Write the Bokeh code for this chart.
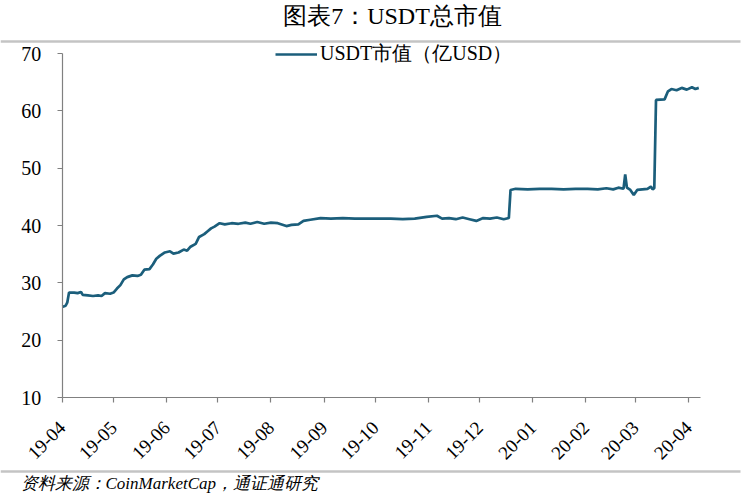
import pandas as pd
from bokeh.plotting import figure
from bokeh.models import (ColumnDataSource, Range1d, DatetimeTickFormatter, MonthsTicker,
                          FixedTicker, Legend, LegendItem, Label, BoxAnnotation)
from bokeh.embed import file_html
from bokeh.resources import INLINE
import math

# ---------------- data ----------------
dates = [
    "2019-04-01", "2019-04-03", "2019-04-04", "2019-04-05", "2019-04-08", "2019-04-10",
    "2019-04-12", "2019-04-13", "2019-04-16", "2019-04-19", "2019-04-22", "2019-04-24",
    "2019-04-26", "2019-04-29", "2019-05-01", "2019-05-03", "2019-05-05", "2019-05-07",
    "2019-05-09", "2019-05-12", "2019-05-15", "2019-05-17", "2019-05-19", "2019-05-22",
    "2019-05-24", "2019-05-26", "2019-05-28", "2019-05-31", "2019-06-03", "2019-06-05",
    "2019-06-08", "2019-06-11", "2019-06-13", "2019-06-15", "2019-06-18", "2019-06-20",
    "2019-06-23", "2019-06-25", "2019-06-27", "2019-06-29", "2019-07-02", "2019-07-05",
    "2019-07-09", "2019-07-13", "2019-07-17", "2019-07-20", "2019-07-24", "2019-07-28",
    "2019-08-01", "2019-08-05", "2019-08-10", "2019-08-13", "2019-08-17", "2019-08-20",
    "2019-08-24", "2019-08-30", "2019-09-05", "2019-09-12", "2019-09-19", "2019-09-26",
    "2019-10-03", "2019-10-10", "2019-10-17", "2019-10-24", "2019-10-31", "2019-11-06",
    "2019-11-09", "2019-11-13", "2019-11-17", "2019-11-21", "2019-11-25", "2019-11-29",
    "2019-12-03", "2019-12-07", "2019-12-11", "2019-12-15", "2019-12-18", "2019-12-19",
    "2019-12-22", "2019-12-29", "2020-01-05", "2020-01-12", "2020-01-19", "2020-01-26",
    "2020-02-02", "2020-02-08", "2020-02-13", "2020-02-17", "2020-02-20", "2020-02-23",
    "2020-02-24", "2020-02-25", "2020-02-27", "2020-02-29", "2020-03-02", "2020-03-05",
    "2020-03-08", "2020-03-10", "2020-03-11", "2020-03-12", "2020-03-13", "2020-03-18",
    "2020-03-20", "2020-03-22", "2020-03-25", "2020-03-28", "2020-03-31", "2020-04-03",
    "2020-04-05", "2020-04-07",
]
usdt_cap = [
    25.8, 26.0, 26.6, 28.3, 28.3, 28.2,
    28.4, 27.9, 27.8, 27.7, 27.8, 27.7,
    28.2, 28.1, 28.3, 29.0, 29.6, 30.6,
    31.0, 31.3, 31.2, 31.4, 32.3, 32.4,
    33.2, 34.2, 34.7, 35.3, 35.5, 35.1,
    35.3, 35.8, 35.6, 36.3, 36.8, 38.0,
    38.5, 39.0, 39.5, 39.8, 40.4, 40.2,
    40.4, 40.3, 40.5, 40.3, 40.6, 40.3,
    40.5, 40.4, 39.9, 40.1, 40.2, 40.8,
    41.0, 41.3, 41.2, 41.3, 41.2, 41.2,
    41.2, 41.2, 41.1, 41.2, 41.5, 41.7,
    41.2, 41.3, 41.1, 41.4, 41.1, 40.8,
    41.3, 41.2, 41.4, 41.1, 41.3, 46.2,
    46.4, 46.3, 46.4, 46.4, 46.3, 46.4,
    46.4, 46.3, 46.5, 46.3, 46.6, 46.4,
    48.9, 46.6, 46.2, 45.3, 46.2, 46.3,
    46.4, 46.8, 46.3, 46.5, 61.9, 62.0,
    63.4, 63.8, 63.6, 64.0, 63.7, 64.1,
    63.8, 64.0,
]

x_start = "2019-04-01"
x_end = "2020-04-08"
y_ticks = [10, 20, 30, 40, 50, 60, 70]

series_label = "USDT市值（亿USD）"
title_text = "图表7：USDT总市值"
source_text = "资料来源：CoinMarketCap，通证通研究"

# ---------------- geometry (page pixels) ----------------
W, H = 749, 493
AX_LEFT, AX_RIGHT = 61.7, 700.0        # x pixels of x_start / x_end
AX_TOP, AX_BOTTOM = 53.0, 397.0        # y pixels of 70 / 10
TOP_RULE_Y, BOT_RULE_Y = 41.0, 471.0
RULE_END_X = 740.0

t0 = pd.Timestamp(x_start)
t1 = pd.Timestamp(x_end)
ms_per_px = (t1 - t0) / (AX_RIGHT - AX_LEFT)
x_lo = t0 - ms_per_px * AX_LEFT
x_hi = t1 + ms_per_px * (W - AX_RIGHT)
u_per_px = (y_ticks[-1] - y_ticks[0]) / (AX_BOTTOM - AX_TOP)
y_hi = y_ticks[-1] + u_per_px * AX_TOP
y_lo = y_ticks[0] - u_per_px * (H - AX_BOTTOM)

def py(pix):        # page y pixel -> data value
    return y_hi - pix * u_per_px

def px(pix):        # page x pixel -> timestamp
    return x_lo + ms_per_px * pix

def ms(ts):
    return ts.value / 1e6

src = ColumnDataSource(dict(date=pd.to_datetime(dates), cap=usdt_cap))

p = figure(width=W, height=H, x_axis_type="datetime", output_backend="svg",
           toolbar_location=None, title=None,
           x_range=Range1d(x_lo, x_hi), y_range=Range1d(y_lo, y_hi), min_border=0)
p.outline_line_color = None
p.xgrid.visible = False
p.ygrid.visible = False

serif = "Liberation Serif"
axis_col = "#808080"
for ax in (p.xaxis[0], p.yaxis[0]):
    ax.axis_line_color = axis_col
    ax.axis_line_width = 1.2
    ax.major_tick_line_color = axis_col
    ax.major_tick_line_width = 1.2
    ax.major_tick_in = 0
    ax.major_tick_out = 5
    ax.minor_tick_line_color = None
    ax.major_label_text_color = "#000000"
    ax.major_label_text_font = serif
    ax.major_label_text_font_size = "19px"

p.yaxis.ticker = FixedTicker(ticks=y_ticks)
p.yaxis.bounds = (y_ticks[0], y_ticks[-1])
p.yaxis.fixed_location = ms(t0)
p.yaxis.major_label_text_font_size = "20px"
p.yaxis.major_label_standoff = 16

p.xaxis.ticker = MonthsTicker(months=list(range(1, 13)))
p.xaxis.formatter = DatetimeTickFormatter(months="%y-%m", days="%y-%m")
p.xaxis.bounds = (ms(t0), ms(t1))
p.xaxis.fixed_location = y_ticks[0]
p.xaxis.major_label_orientation = math.pi / 4
p.xaxis.major_label_standoff = 22

r = p.line("date", "cap", source=src, line_color="#1b5e7b", line_width=2.7)

legend = Legend(items=[LegendItem(label=series_label, renderers=[r])],
                location=(275, H - 67), orientation="horizontal")
legend.background_fill_alpha = 0
legend.border_line_color = None
legend.padding = 0
legend.margin = 0
legend.glyph_width = 42
legend.glyph_height = 20
legend.label_height = 20
legend.label_standoff = 3
legend.label_text_font = serif
legend.label_text_font_size = "20px"
legend.label_text_color = "#000000"
p.add_layout(legend)

# decorative grey rules above and below the chart
for ry in (TOP_RULE_Y, BOT_RULE_Y):
    p.add_layout(BoxAnnotation(left=ms(px(0)), right=ms(px(RULE_END_X)),
                               top=py(ry - 1.25), bottom=py(ry + 1.25),
                               fill_color="#c4c4c4", fill_alpha=1.0, line_color=None))

p.add_layout(Label(x=392, y=H - 15, x_units="screen", y_units="screen",
                   text=title_text, text_align="center", text_baseline="middle",
                   text_font=serif, text_font_size="24px", text_color="#000000"))
p.add_layout(Label(x=20, y=H - 483, x_units="screen", y_units="screen",
                   text=source_text, text_align="left", text_baseline="middle",
                   text_font=serif, text_font_size="17px", text_font_style="italic",
                   text_color="#000000"))

open("out.html", "w").write(file_html(p, INLINE))
